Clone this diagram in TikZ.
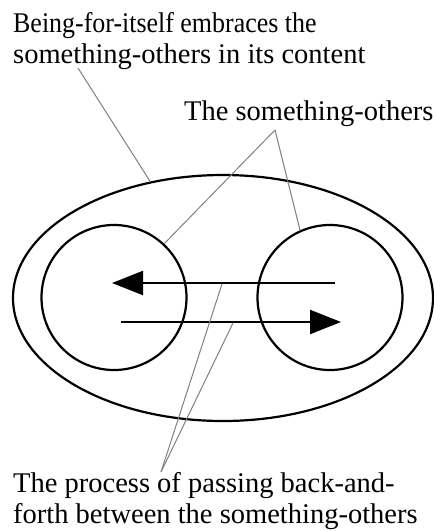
\documentclass[tikz,border=0pt]{standalone}
\usepackage{fontspec}
\setmainfont{Liberation Serif}
\usetikzlibrary{shapes.geometric,arrows.meta}
\begin{document}
\begin{tikzpicture}[x=1pt,y=-1pt,
  shapeline/.style={draw=black,line width=2.2pt,inner sep=0pt},
  leader/.style={draw=black!50,line width=1pt},
  flow/.style={draw=black,line width=2.2pt,-{Triangle[length=31pt,width=24pt]}},
  label/.style={inner sep=0pt,align=left,anchor=base west,font=\fontsize{28.5}{31}\selectfont}]
\useasboundingbox (0,0) rectangle (434,531);
\node[shapeline,ellipse,minimum width=420pt,minimum height=246pt] (E) at (223,298) {};
\node[shapeline,circle,minimum size=145pt] (L) at (114,297.5) {};
\node[shapeline,circle,minimum size=145pt] (R) at (330,297.5) {};
\coordinate (u1) at (335,283);
\coordinate (u2) at (112,283);
\coordinate (d1) at (121,322);
\coordinate (d2) at (341,322);
\draw[flow] (u1) -- (u2);
\draw[flow] (d1) -- (d2);
\node[label] (T1) at (13,63) {\scalebox{0.91}[1]{Being-for-itself embraces the}\\something-others in its content};
\node[label] (T2) at (184,120) {The something-others};
\node[label] (T3) at (13,523) {The process of passing back-and-\\forth between the something-others};
\coordinate (t1) at (78,68);
\coordinate (t2) at (275,130);
\coordinate (t3) at (161,472);
\coordinate (pu) at (222,284);
\coordinate (pd) at (233,323);
\draw[leader] (t1) -- (E.122);
\draw[leader] (t2) -- (L.47);
\draw[leader] (t2) -- (R.114);
\draw[leader] (t3) -- (pu);
\draw[leader] (t3) -- (pd);
\end{tikzpicture}
\end{document}
